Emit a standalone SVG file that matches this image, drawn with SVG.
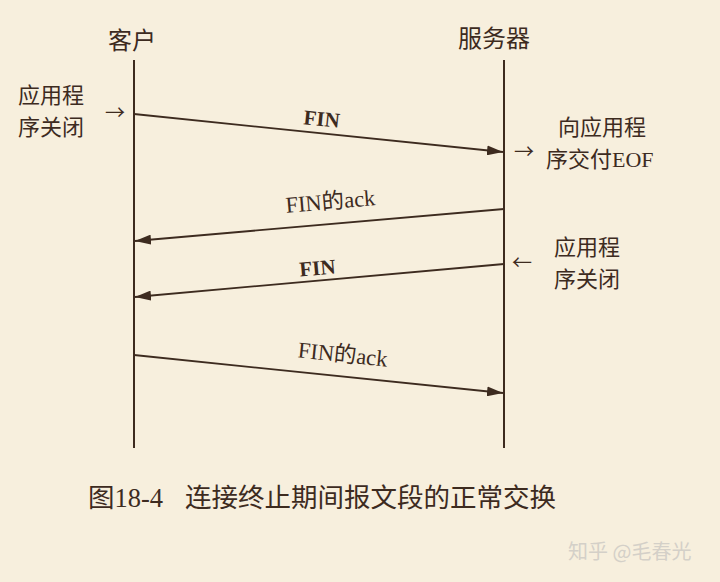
<svg xmlns="http://www.w3.org/2000/svg" width="720" height="582" viewBox="0 0 720 582">
<style>
.cjk{font-family:"Noto Sans CJK SC","Noto Sans",sans-serif;fill:#3d2b1f;font-size:22px}
.ser{font-family:"Liberation Serif","Noto Sans CJK SC",serif;fill:#3d2b1f;font-size:22.5px}
.fin{font-size:21px;font-weight:bold}
.rom{font-family:"Liberation Serif",serif}
.arr{font-size:20px}
.life{stroke:#3d2b1f;stroke-width:2;fill:none}
.msg{stroke:#3d2b1f;stroke-width:1.8;fill:none}
</style>
<defs>
<marker id="ah" viewBox="0 0 16 10" refX="16" refY="5" markerWidth="16" markerHeight="10" markerUnits="userSpaceOnUse" orient="auto">
<path d="M0,0 L16,5 L0,10 Z" fill="#3d2b1f"/>
</marker>
</defs>
<rect width="720" height="582" fill="#f7efdd"/>
<g id="client">
<text class="cjk" x="132" y="49" text-anchor="middle" style="font-size:24px">客户</text>
<line class="life" x1="134" y1="60" x2="134" y2="448"/>
</g>
<g id="server">
<text class="cjk" x="494" y="47" text-anchor="middle" style="font-size:24px">服务器</text>
<line class="life" x1="504" y1="60" x2="504" y2="448"/>
</g>
<g id="note-client-close">
<text class="cjk" x="18" y="103">应用程</text>
<text class="cjk" x="18" y="135">序关闭</text>
<text class="cjk arr" x="105" y="120">→</text>
</g>
<g id="note-server-eof">
<text class="cjk arr" x="514" y="159">→</text>
<text class="cjk" x="558" y="135">向应用程</text>
<text class="cjk" x="546" y="167">序交付<tspan class="rom">EOF</tspan></text>
</g>
<g id="note-server-close">
<text class="cjk arr" x="512" y="270">←</text>
<text class="cjk" x="554" y="255">应用程</text>
<text class="cjk" x="554" y="287">序关闭</text>
</g>
<g id="connectors">
<line class="msg" x1="134" y1="114" x2="503" y2="152" marker-end="url(#ah)"/>
<line class="msg" x1="504" y1="209" x2="135" y2="241" marker-end="url(#ah)"/>
<line class="msg" x1="504" y1="264" x2="135" y2="297" marker-end="url(#ah)"/>
<line class="msg" x1="134" y1="355" x2="503" y2="393" marker-end="url(#ah)"/>
<text class="ser fin" x="321" y="126" text-anchor="middle" transform="rotate(5.9 321 126)">FIN</text>
<text class="ser" x="331" y="209" text-anchor="middle" transform="rotate(-4.9 331 209)">FIN的ack</text>
<text class="ser fin" x="318" y="275" text-anchor="middle" transform="rotate(-5.1 318 275)">FIN</text>
<text class="ser" x="342" y="362" text-anchor="middle" transform="rotate(5.9 342 362)">FIN的ack</text>
</g>
<g id="caption">
<text class="cjk" x="88" y="507" style="font-size:26.5px">图<tspan class="rom">18-4</tspan></text>
<text class="cjk" x="185" y="507" style="font-size:26.5px">连接终止期间报文段的正常交换</text>
</g>
<text x="568" y="559" font-family="Noto Sans CJK SC,sans-serif" font-size="20" fill="#d4d0c8">知乎 @毛春光</text>
</svg>
